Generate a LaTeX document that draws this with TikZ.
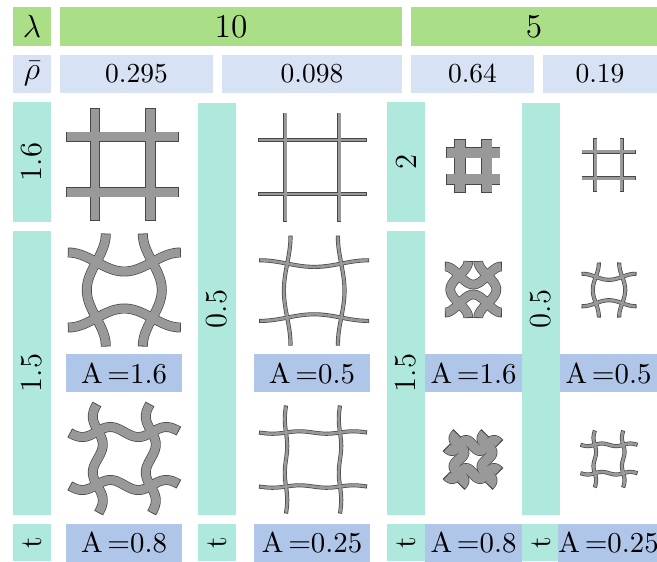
\documentclass[tikz,border=0pt]{standalone}
\definecolor{lamgreen}{HTML}{AADE87}
\definecolor{rhoblue}{HTML}{D7E3F4}
\definecolor{teal}{HTML}{AFE9DD}
\definecolor{areablue}{HTML}{AFC6E9}
\definecolor{strutgray}{HTML}{999999}
\tikzset{
    cell/.style={inner sep=0pt, outer sep=0pt, font=\fontsize{11.5}{14}\selectfont},
    box/.style n args={2}{minimum width=#1*0.375pt, minimum height=#2*0.375pt},
    lamcell/.style={cell, fill=lamgreen, font=\fontsize{12.5}{15}\selectfont},
    rhocell/.style={cell, fill=rhoblue, font=\fontsize{10.3}{12}\selectfont},
    tcell/.style={cell, fill=teal},
    acell/.style={cell, fill=areablue, box={116}{38}, font=\fontsize{10.8}{13}\selectfont},
    acellb/.style={cell, fill=areablue, box={97}{38}, font=\fontsize{10.8}{13}\selectfont}
}
% centre x, centre y, half spacing, half length, strut width, cos amplitude, sin amplitude, wave number
\newcommand{\lattice}[8]{
    \begin{scope}[shift={(#1,#2)}]
        \foreach \col/\wider/\cut in {black!72/1.4/0, strutgray/0/0.8} {
            \foreach \s in {-1,1} {
                \draw[\col, line width=(#5+\wider)*0.375pt, line join=round]
                    plot[variable=\u, domain=-#4+\cut:#4-\cut, samples=61]
                    ({\u}, {\s*(#3-#6*cos(#8*\u))+#7*sin(#8*\u)});
                \draw[\col, line width=(#5+\wider)*0.375pt, line join=round]
                    plot[variable=\u, domain=-#4+\cut:#4-\cut, samples=61]
                    ({\s*(#3+#6*cos(#8*\u))-#7*sin(#8*\u)}, {\u});
            }
        }
    \end{scope}
}
\begin{document}
\begin{tikzpicture}[x=0.375pt, y=-0.375pt]
    \useasboundingbox (0,0) rectangle (657,561);

    \node[lamcell, box={38}{39}] (lam) at (32,26.5) {$\lambda$};
    \node[lamcell, box={342}{39}] (lamten) at (231,26.5) {10};
    \node[lamcell, box={246}{39}] (lamfive) at (534,26.5) {5};

    \node[rhocell, box={38}{38}, font=\fontsize{13}{15}\selectfont] (rho) at (32,74) {$\bar{\rho}$};
    \node[rhocell, box={153}{38}] (rhoa) at (136.5,74) {0.295};
    \node[rhocell, box={180}{38}] (rhob) at (312,74) {0.098};
    \node[rhocell, box={123}{38}] (rhoc) at (472.5,74) {0.64};
    \node[rhocell, box={114}{38}] (rhod) at (600,74) {0.19};

    % teal columns
    \node[tcell, box={120}{38}, rotate=90] (ta) at (32,162) {1.6};
    \node[tcell, box={284}{38}, rotate=90] (tb) at (32,373) {1.5};
    \node[tcell, box={37}{38}, rotate=90] (tc) at (32,542.5) {t};
    \node[tcell, box={412}{38}, rotate=90] (td) at (217,309) {0.5};
    \node[tcell, box={37}{38}, rotate=90] (te) at (217,542.5) {t};
    \node[tcell, box={120}{38}, rotate=90] (tf) at (406,162) {2};
    \node[tcell, box={284}{38}, rotate=90] (tg) at (406,373) {1.5};
    \node[tcell, box={37}{38}, rotate=90] (th) at (406,542.5) {t};
    \node[tcell, box={412}{38}, rotate=90] (ti) at (541,309) {0.5};
    \node[tcell, box={37}{38}, rotate=90] (tj) at (541,542.5) {t};

    % amplitude labels
    \node[acell] (aa) at (124,373) {A\,$=$1.6};
    \node[acell] (ab) at (124,542.5) {A\,$=$0.8};
    \node[acell] (ac) at (312,373) {A\,$=$0.5};
    \node[acell] (ad) at (312,542.5) {A\,$=$0.25};
    \node[acellb] (ae) at (473.5,373) {A\,$=$1.6};
    \node[acellb] (af) at (473.5,542.5) {A\,$=$0.8};
    \node[acellb] (ag) at (608.5,373) {A\,$=$0.5};
    \node[acellb] (ah) at (608.5,542.5) {A\,$=$0.25};

    % lattices, lambda 10
    \lattice{122.75}{164.4}{27.75}{56.5}{8.7}{0}{0}{1}
    \lattice{124.3}{290}{28}{56.5}{8.5}{9.5}{0}{3.21}
    \lattice{124.3}{458.5}{26.5}{54.5}{8.5}{0}{5}{6.43}
    \lattice{312.3}{167}{27}{54.5}{2.7}{0}{0}{1}
    \lattice{314.2}{290.6}{27}{55}{2.7}{3.3}{0}{3.33}
    \lattice{313}{459.5}{27}{54}{2.7}{0}{1.2}{6.67}

    % lattices, lambda 5
    \lattice{473.3}{166}{13.3}{27}{10}{0}{0}{1}
    \lattice{473.3}{289.5}{14}{28.5}{8.3}{9}{0}{6.4}
    \lattice{473}{459.5}{14}{26.5}{9.5}{0}{5}{12.86}
    \lattice{608.5}{165}{13.3}{27}{2.7}{0}{0}{1}
    \lattice{609}{290}{13.2}{27.5}{2.7}{3}{0}{6.8}
    \lattice{609}{459}{14.2}{28.5}{2.7}{0}{1.3}{12.7}
\end{tikzpicture}
\end{document}
